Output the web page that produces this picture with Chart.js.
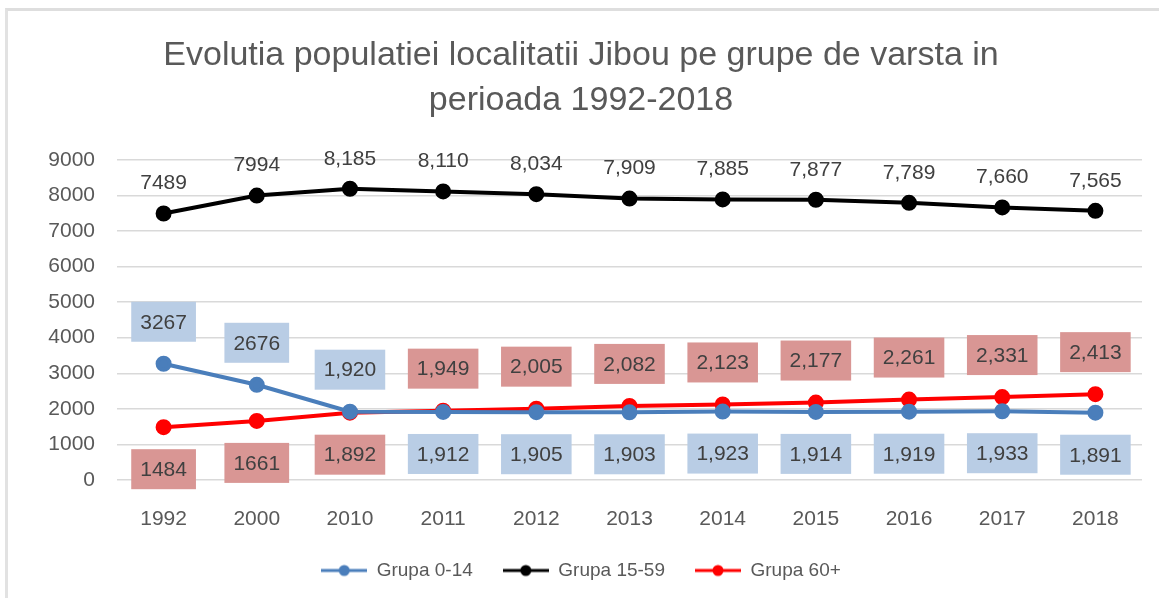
<!DOCTYPE html>
<html>
<head>
<meta charset="utf-8">
<script src="https://cdn.jsdelivr.net/npm/chart.js@4/dist/chart.umd.min.js"></script>
<style>
  body { margin: 0; background: #fff; }
  #frame { position: absolute; left: 5px; top: 8px; width: 1154px; height: 590px;
           border-top: 3px solid #dedede; border-left: 3px solid #e2e2e2; }
  #wrap { position: absolute; left: 0; top: 0; width: 1159px; height: 598px; }
</style>
</head>
<body>
<div id="frame"></div>
<div id="wrap"><canvas id="popChart" width="1159" height="598"></canvas></div>
<script>
// chart data
const years = ['1992', '2000', '2010', '2011', '2012', '2013', '2014', '2015', '2016', '2017', '2018'];
const grupa0_14 = [3267, 2676, 1920, 1912, 1905, 1903, 1923, 1914, 1919, 1933, 1891];
const grupa15_59 = [7489, 7994, 8185, 8110, 8034, 7909, 7885, 7877, 7789, 7660, 7565];
const grupa60 = [1484, 1661, 1892, 1949, 2005, 2082, 2123, 2177, 2261, 2331, 2413];
// the first two years are shown without thousands separator in the original
const plainLabels = ['1992', '2000'];
const yTicks = [0, 1000, 2000, 3000, 4000, 5000, 6000, 7000, 8000, 9000];

const FONT = 'Liberation Sans';
const TXT = '#595959';

function fmt(v, i) {
    return plainLabels.includes(years[i]) ? String(v) : v.toLocaleString('en-US');
}

// small line + dot marker used by the legend
function legendMarker(color) {
    const c = document.createElement('canvas');
    c.width = 46; c.height = 14;
    const g = c.getContext('2d');
    g.strokeStyle = color; g.lineWidth = 3;
    g.beginPath(); g.moveTo(0, 7); g.lineTo(46, 7); g.stroke();
    g.fillStyle = color;
    g.beginPath(); g.arc(23, 7, 5.5, 0, Math.PI * 2); g.fill();
    return c;
}

// draws the value labels (Excel style), boxes for the two lower series
const valueLabels = {
    id: 'valueLabels',
    afterDatasetsDraw(chart) {
        const ctx = chart.ctx;
        const blue = chart.getDatasetMeta(0).data;
        const black = chart.getDatasetMeta(1).data;
        const red = chart.getDatasetMeta(2).data;
        ctx.save();
        ctx.font = '21px "' + FONT + '"';
        ctx.textAlign = 'center';
        ctx.textBaseline = 'middle';

        black.forEach((pt, i) => {
            ctx.fillStyle = '#404040';
            ctx.fillText(fmt(grupa15_59[i], i), pt.x, pt.y - 30);
        });

        function box(pt, text, above, fill) {
            const w = ctx.measureText(text).width + 18;
            const h = 40;
            const cy = above ? pt.y - 42 : pt.y + 42;
            ctx.fillStyle = fill;
            ctx.fillRect(pt.x - w / 2, cy - h / 2, w, h);
            ctx.fillStyle = '#404040';
            ctx.fillText(text, pt.x, cy + 1);
        }

        years.forEach((y, i) => {
            const blueAbove = grupa0_14[i] > grupa60[i];
            box(blue[i], fmt(grupa0_14[i], i), blueAbove, '#b9cde5');
            box(red[i], fmt(grupa60[i], i), !blueAbove, '#d99694');
        });
        ctx.restore();
    }
};

const ctx = document.getElementById('popChart').getContext('2d');
new Chart(ctx, {
    type: 'line',
    data: {
        labels: years,
        datasets: [
            {
                label: 'Grupa 0-14',
                data: grupa0_14,
                borderColor: '#4a7ebb',
                backgroundColor: '#4a7ebb',
                borderWidth: 4,
                pointRadius: 6,
                pointStyle: 'circle',
                fill: false,
            },
            {
                label: 'Grupa 15-59',
                data: grupa15_59,
                borderColor: '#000000',
                backgroundColor: '#000000',
                borderWidth: 4,
                pointRadius: 6,
                fill: false,
            },
            {
                label: 'Grupa 60+',
                data: grupa60,
                borderColor: '#ff0000',
                backgroundColor: '#ff0000',
                borderWidth: 4,
                pointRadius: 6,
                fill: false,
            }
        ]
    },
    options: {
        responsive: false,
        animation: false,
        layout: { padding: { left: 20, right: 17, top: 0, bottom: 8 } },
        plugins: {
            title: {
                display: true,
                text: ['Evolutia populatiei localitatii Jibou pe grupe de varsta in', 'perioada 1992-2018'],
                color: TXT,
                font: { family: FONT, size: 34, weight: 'normal', lineHeight: 1.32 },
                padding: { top: 33, bottom: 37 }
            },
            legend: {
                position: 'bottom',
                labels: {
                    color: TXT,
                    font: { family: FONT, size: 19 },
                    usePointStyle: true,
                    pointStyleWidth: 46,
                    padding: 30,
                    generateLabels(chart) {
                        return chart.data.datasets.map((ds, i) => ({
                            text: ds.label,
                            fontColor: TXT,
                            pointStyle: legendMarker(ds.borderColor),
                            strokeStyle: ds.borderColor,
                            fillStyle: ds.borderColor,
                            lineWidth: 0,
                            datasetIndex: i
                        }));
                    }
                }
            },
            tooltip: { enabled: false }
        },
        scales: {
            x: {
                offset: true,
                grid: { display: false },
                border: { display: false },
                ticks: { color: TXT, font: { family: FONT, size: 21 }, padding: 19 },
                afterFit(scale) { scale.height = 51; }
            },
            y: {
                min: 0,
                max: yTicks[yTicks.length - 1],
                afterBuildTicks(scale) { scale.ticks = yTicks.map(v => ({ value: v })); },
                grid: { color: '#d9d9d9', lineWidth: 1.5, drawTicks: false },
                border: { display: false },
                ticks: {
                    color: TXT,
                    font: { family: FONT, size: 21 },
                    padding: 22,
                    callback: v => String(v)
                },
                afterFit(scale) { scale.width = 97; }
            }
        }
    },
    plugins: [valueLabels]
});
</script>
</body>
</html>
